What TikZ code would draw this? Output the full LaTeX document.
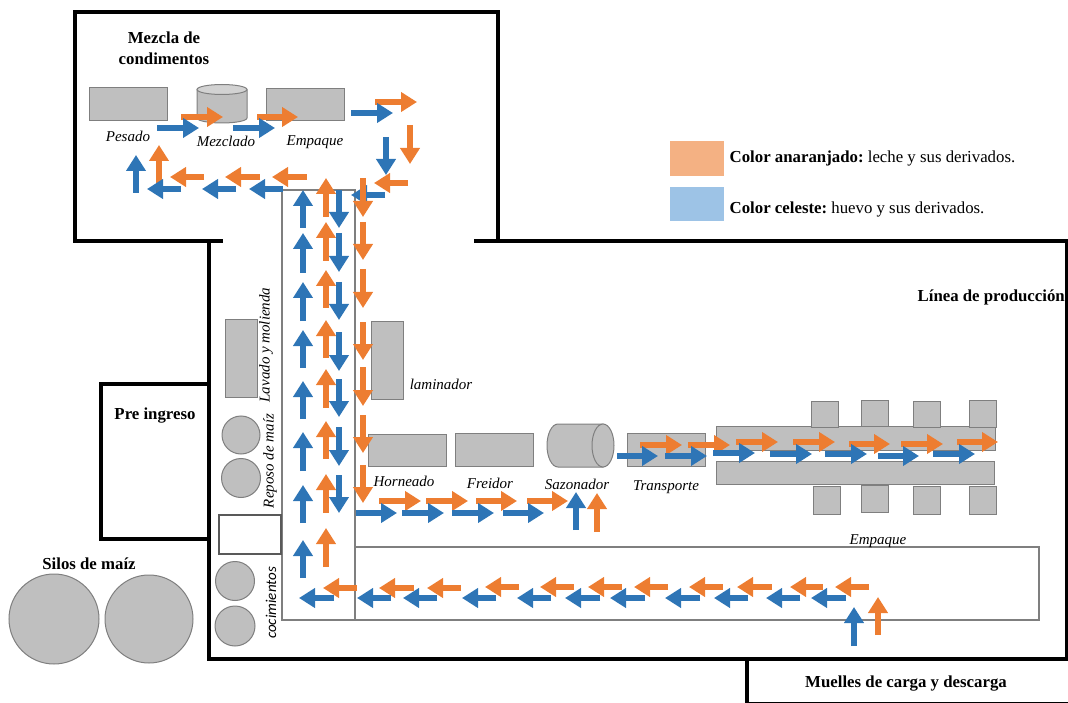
\documentclass[tikz,border=0pt]{standalone}
\usepackage{fontspec}
\setmainfont{Liberation Serif}
\newfontfamily\carlito{Carlito}
\usetikzlibrary{arrows.meta}

\definecolor{gris}{HTML}{BFBFBF}
\definecolor{borde}{HTML}{7F7F7F}
\definecolor{azul}{HTML}{2E75B6}
\definecolor{naranja}{HTML}{ED7D31}
\definecolor{legnaranja}{HTML}{F4B183}
\definecolor{legazul}{HTML}{9DC3E6}

\tikzset{
	muro/.style={black,line width=4pt,line cap=rect},
	linea/.style={borde,line width=1.2pt},
	bloque/.style={draw=borde,fill=gris,line width=1pt,rectangle,inner sep=0pt},
	circulo/.style={draw=borde,fill=gris,line width=1pt,circle,inner sep=0pt},
	titulo/.style={font=\fontsize{16.8}{21}\selectfont\bfseries,align=center,inner sep=0pt},
	etiqueta/.style={font=\fontsize{15}{16}\selectfont\itshape,inner sep=0pt},
	leyenda/.style={font=\fontsize{16.8}{18}\selectfont\frenchspacing,anchor=west,inner sep=0pt},
	fazul/.style={azul,line width=6pt,-{Triangle[length=16pt,width=19pt]}},
	fnaranja/.style={naranja,line width=6pt,-{Triangle[length=16pt,width=19pt]}}
}

\begin{document}
\begin{tikzpicture}[x=1pt,y=-1pt]

	\useasboundingbox (0,0) rectangle (1068,703);

	% muros
	\draw [muro] (221,241.5) -- (75,241.5) -- (75,12) -- (498,12) -- (498,241.5);
	\draw [muro] (476,241.5) -- (1067,241.5) -- (1067,659) -- (209,659) -- (209,241.5);
	\draw [muro] (209,383.5) -- (101,383.5) -- (101,539) -- (209,539);
	\draw [muro] (747,659) -- (747,703);
	\draw [muro,line width=1.5pt] (747,702.3) -- (1067,702.3);

	% bandas
	\draw [linea] (282,190) rectangle (355,620);
	\draw [linea] (355,547) rectangle (1039,620);
	\draw [draw=black!65,line width=1.2pt,fill=white] (219,515) rectangle (281,554);

	% equipos
	\node [name=pesado,bloque,minimum width=78pt,minimum height=33pt] at (128,104) {};
	\node [name=empaque1,bloque,minimum width=78pt,minimum height=32pt] at (305,105) {};
	\node [name=lavado,bloque,minimum width=32pt,minimum height=78pt] at (241,358) {};
	\node [name=laminador,bloque,minimum width=32pt,minimum height=78pt] at (387,360) {};
	\node [name=horneado,bloque,minimum width=78pt,minimum height=32pt] at (407,450) {};
	\node [name=freidor,bloque,minimum width=78pt,minimum height=33pt] at (494,449.5) {};
	\node [name=transporte,bloque,minimum width=78pt,minimum height=33pt] at (666,449.5) {};

	\node [name=barra1,bloque,minimum width=279pt,minimum height=24pt] at (855.5,438) {};
	\node [name=barra2,bloque,minimum width=278pt,minimum height=23pt] at (855,472.5) {};

	\node [name=sup1,bloque,minimum width=27pt,minimum height=26pt] at (824.5,414) {};
	\node [name=sup2,bloque,minimum width=27pt,minimum height=26pt] at (874.5,413) {};
	\node [name=sup3,bloque,minimum width=27pt,minimum height=26pt] at (926.5,414) {};
	\node [name=sup4,bloque,minimum width=27pt,minimum height=27pt] at (982.5,413.5) {};
	\node [name=inf1,bloque,minimum width=27pt,minimum height=28pt] at (826.5,500) {};
	\node [name=inf2,bloque,minimum width=27pt,minimum height=27pt] at (874.5,498.5) {};
	\node [name=inf3,bloque,minimum width=27pt,minimum height=28pt] at (926.5,500) {};
	\node [name=inf4,bloque,minimum width=27pt,minimum height=28pt] at (982.5,500) {};

	\node [name=reposo1,circulo,minimum size=38pt] at (241,435) {};
	\node [name=reposo2,circulo,minimum size=39pt] at (241,478) {};
	\node [name=coccion1,circulo,minimum size=39pt] at (235,581) {};
	\node [name=coccion2,circulo,minimum size=40pt] at (235,626) {};
	\node [name=silo1,circulo,minimum size=90pt] at (54,619) {};
	\node [name=silo2,circulo,minimum size=88pt] at (149,619) {};

	% tambores
	\draw [draw=borde,fill=gris,line width=1pt] (197,90) -- (197,118) arc[start angle=180,end angle=360,x radius=25pt,y radius=5pt] -- (247,90) -- cycle;
	\draw [draw=borde,fill=gris!70,line width=1pt] (222,89.5) ellipse [x radius=25pt,y radius=5pt];
	\draw [draw=borde,fill=gris,line width=1pt] (603,424) -- (558,424) arc[start angle=90,end angle=270,x radius=11pt,y radius=21.5pt] -- (603,467) -- cycle;
	\draw [draw=borde,fill=gris,line width=1pt] (603,445.5) ellipse [x radius=11pt,y radius=21.5pt];

	% leyenda
	\fill [legnaranja] (670,141) rectangle (724,176);
	\fill [legazul] (670,187) rectangle (724,221);
	\node [name=leg1,leyenda] at (729.5,158.5) {\textbf{Color anaranjado:} leche y sus derivados.};
	\node [name=leg2,leyenda] at (729.5,209) {\textbf{Color celeste:} huevo y sus derivados.};

	% flechas: mezcla de condimentos
	\draw [fazul] (385,195) -- (351,195);
	\draw [fnaranja] (181,117) -- (223,117);
	\draw [fnaranja] (257,117) -- (298,117);
	\draw [fnaranja] (375,102) -- (417,102);
	\draw [fnaranja] (410,125) -- (410,164);
	\draw [fnaranja] (408,183) -- (374,183);
	\draw [fnaranja] (307,177) -- (272,177);
	\draw [fnaranja] (260,177) -- (225,177);
	\draw [fnaranja] (204,177) -- (170,177);
	\draw [fnaranja] (159,183) -- (159,145);
	\draw [fazul] (157,128) -- (199,128);
	\draw [fazul] (233,128) -- (275,128);
	\draw [fazul] (351,113) -- (393,113);
	\draw [fazul] (386,137) -- (386,175);
	\draw [fazul] (283,189) -- (249,189);
	\draw [fazul] (236,189) -- (202,189);
	\draw [fazul] (181,189) -- (147,189);
	\draw [fazul] (136,193) -- (136,155);

	% flechas: columna que baja
	\draw [fnaranja] (363,178) -- (363,217);
	\draw [fnaranja] (363,222) -- (363,260);
	\draw [fnaranja] (363,269) -- (363,308);
	\draw [fnaranja] (363,322) -- (363,360);
	\draw [fnaranja] (363,367) -- (363,406);
	\draw [fnaranja] (363,415) -- (363,453);
	\draw [fnaranja] (363,465) -- (363,503);
	\draw [fazul] (339,190) -- (339,228);
	\draw [fazul] (339,233) -- (339,272);
	\draw [fazul] (339,282) -- (339,320);
	\draw [fazul] (339,332) -- (339,371);
	\draw [fazul] (339,379) -- (339,417);
	\draw [fazul] (339,427) -- (339,466);
	\draw [fazul] (339,475) -- (339,513);

	% flechas: columna que sube
	\draw [fnaranja] (326,217) -- (326,178);
	\draw [fnaranja] (326,261) -- (326,222);
	\draw [fnaranja] (326,308) -- (326,270);
	\draw [fnaranja] (326,358) -- (326,320);
	\draw [fnaranja] (326,408) -- (326,369);
	\draw [fnaranja] (326,459) -- (326,421);
	\draw [fnaranja] (326,513) -- (326,474);
	\draw [fnaranja] (326,567) -- (326,528);
	\draw [fazul] (303,228) -- (303,190);
	\draw [fazul] (303,273) -- (303,233);
	\draw [fazul] (303,321) -- (303,282);
	\draw [fazul] (303,368) -- (303,330);
	\draw [fazul] (303,419) -- (303,381);
	\draw [fazul] (303,471) -- (303,432);
	\draw [fazul] (303,523) -- (303,485);
	\draw [fazul] (303,578) -- (303,540);

	% flechas: linea de proceso
	\draw [fnaranja] (379,501) -- (421,501);
	\draw [fnaranja] (426,501) -- (468,501);
	\draw [fnaranja] (476,501) -- (517,501);
	\draw [fnaranja] (527,501) -- (568,501);
	\draw [fnaranja] (597,532) -- (597,493);
	\draw [fnaranja] (640,445) -- (682,445);
	\draw [fnaranja] (688,445) -- (730,445);
	\draw [fnaranja] (736,442) -- (778,442);
	\draw [fnaranja] (793,442) -- (835,442);
	\draw [fnaranja] (849,444) -- (890,444);
	\draw [fnaranja] (901,444) -- (943,444);
	\draw [fnaranja] (957,442) -- (998,442);
	\draw [fazul] (356,513) -- (397,513);
	\draw [fazul] (402,513) -- (444,513);
	\draw [fazul] (452,513) -- (494,513);
	\draw [fazul] (503,513) -- (544,513);
	\draw [fazul] (576,530) -- (576,492);
	\draw [fazul] (617,456) -- (658,456);
	\draw [fazul] (665,456) -- (707,456);
	\draw [fazul] (713,453) -- (755,453);
	\draw [fazul] (770,454) -- (812,454);
	\draw [fazul] (825,454) -- (867,454);
	\draw [fazul] (878,456) -- (919,456);
	\draw [fazul] (933,454) -- (975,454);

	% flechas: banda de empaque
	\draw [fnaranja] (878,635) -- (878,597);
	\draw [fnaranja] (869,587) -- (835,587);
	\draw [fnaranja] (823,587) -- (790,587);
	\draw [fnaranja] (772,587) -- (737,587);
	\draw [fnaranja] (723,587) -- (689,587);
	\draw [fnaranja] (668,587) -- (634,587);
	\draw [fnaranja] (622,587) -- (588,587);
	\draw [fnaranja] (574,587) -- (540,587);
	\draw [fnaranja] (519,587) -- (485,587);
	\draw [fnaranja] (461,588) -- (427,588);
	\draw [fnaranja] (414,588) -- (379,588);
	\draw [fnaranja] (357,588) -- (323,588);
	\draw [fazul] (854,646) -- (854,607);
	\draw [fazul] (846,598) -- (811,598);
	\draw [fazul] (800,598) -- (766,598);
	\draw [fazul] (748,598) -- (714,598);
	\draw [fazul] (700,598) -- (665,598);
	\draw [fazul] (645,598) -- (610,598);
	\draw [fazul] (600,598) -- (565,598);
	\draw [fazul] (551,598) -- (517,598);
	\draw [fazul] (496,598) -- (462,598);
	\draw [fazul] (437,598) -- (403,598);
	\draw [fazul] (391,598) -- (357,598);
	\draw [fazul] (334,598) -- (299,598);

	% textos
	\node [name=zona1,titulo] at (164,48.5) {Mezcla de\\condimentos};
	\node [name=zona2,titulo,anchor=east] at (1065,297.5) {Línea de producción};
	\node [name=zona3,titulo] at (155,416) {Pre ingreso};
	\node [name=zona4,titulo] at (89,564) {Silos de maíz};
	\node [name=zona5,titulo] at (906,684) {Muelles de carga y descarga};

	\node [name=lab1,etiqueta] at (128,136) {Pesado};
	\node [name=lab2,etiqueta] at (226,141) {Mezclado};
	\node [name=lab3,etiqueta] at (315,142) {Empaque};
	\node [name=lab4,etiqueta] at (441,384) {laminador};
	\node [name=lab5,etiqueta] at (404,481) {Horneado};
	\node [name=lab6,etiqueta] at (490,483) {Freidor};
	\node [name=lab7,etiqueta] at (577,484) {Sazonador};
	\node [name=lab8,etiqueta] at (666,487) {Transporte};
	\node [name=lab9,etiqueta] at (878,541) {Empaque};
	\node [name=lab10,etiqueta,rotate=90] at (266,345) {Lavado y molienda};
	\node [name=lab11,etiqueta,rotate=90] at (270,461) {Reposo de maíz};
	\node [name=lab12,etiqueta,rotate=90,font=\fontsize{15}{16}\selectfont\carlito\itshape] at (271,603) {cocimientos};

\end{tikzpicture}
\end{document}
